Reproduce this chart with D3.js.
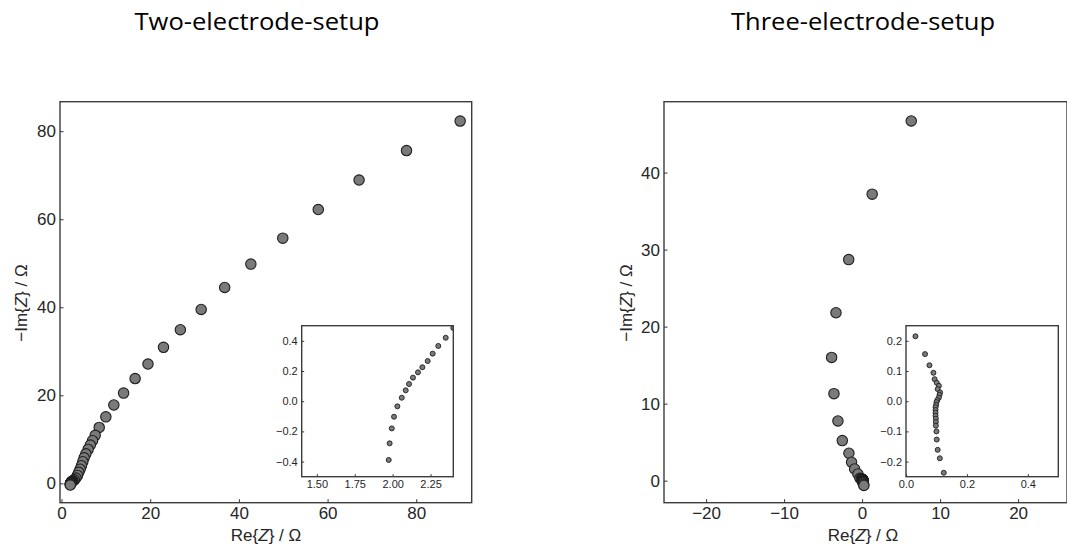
<!DOCTYPE html>
<html>
<head>
<meta charset="utf-8">
<script src="https://cdn.jsdelivr.net/npm/d3@7"></script>
<style>
  body { margin: 0; background: #fff; }
  .tick text { font-family: "Liberation Sans", sans-serif; fill: #262626; }
  .tick line { stroke: #333; }
</style>
</head>
<body>
<div id="chart"></div>
<script>
////////////////////////////////////////////////////////////////
// Data

// Two-electrode setup: Re{Z} and -Im{Z} in Ohm
var twoRe = [89.9, 77.8, 67.1, 57.9, 49.9, 42.7, 36.8, 31.5, 26.8, 23.0, 19.5, 16.6, 14.0, 11.8, 10.0,
    8.5, 7.6, 7.0, 6.5, 6.0, 5.5, 5.1, 4.8, 4.5, 4.2, 3.9, 3.6, 3.25, 2.9, 2.6, 2.45,
    2.40, 2.35, 2.301, 2.264, 2.231, 2.196, 2.167, 2.134, 2.108, 2.086, 2.06, 2.031, 2.009, 1.994, 1.980, 1.974];
var twoIm = [82.3, 75.6, 68.9, 62.2, 55.7, 49.8, 44.5, 39.5, 34.9, 30.9, 27.1, 23.8, 20.5, 17.8, 15.1,
    12.7, 10.9, 9.7, 8.7, 7.7, 6.7, 5.8, 4.9, 4.0, 3.2, 2.5, 1.8, 1.2, 0.8, 0.6, 0.52,
    0.485, 0.42, 0.366, 0.315, 0.266, 0.225, 0.191, 0.156, 0.114, 0.072, 0.023, -0.034, -0.103, -0.18, -0.279, -0.389];

// Three-electrode setup
var threeRe = [6.3, 1.29, -1.72, -3.35, -3.91, -3.61, -3.1, -2.54, -1.69, -1.35, -0.96, -0.54, -0.28, -0.1,
    0.031, 0.0625, 0.077, 0.09, 0.094, 0.101, 0.108, 0.104, 0.112, 0.11, 0.108, 0.103, 0.1, 0.099, 0.097,
    0.097, 0.097, 0.097, 0.098, 0.098, 0.098, 0.1, 0.101, 0.104, 0.111, 0.124, 0.15, 0.19, 0.23];
var threeIm = [46.7, 37.2, 28.7, 21.8, 16.0, 11.3, 7.75, 5.2, 3.56, 2.39, 1.52, 0.87, 0.31, 0.26,
    0.215, 0.156, 0.119, 0.094, 0.073, 0.061, 0.051, 0.04, 0.029, 0.021, 0.012, 0.004, -0.003, -0.012, -0.02,
    -0.029, -0.038, -0.048, -0.058, -0.069, -0.081, -0.1, -0.127, -0.161, -0.189, -0.237, -0.33, -0.48, -0.62];

// Tick values
var twoXTicks = [0, 20, 40, 60, 80];
var twoYTicks = [0, 20, 40, 60, 80];
var twoInsetXTicks = [1.50, 1.75, 2.00, 2.25];
var twoInsetYTicks = [-0.4, -0.2, 0.0, 0.2, 0.4];
var threeXTicks = [-20, -10, 0, 10, 20];
var threeYTicks = [0, 10, 20, 30, 40];
var threeInsetXTicks = [0.0, 0.2, 0.4];
var threeInsetYTicks = [-0.2, -0.1, 0.0, 0.1, 0.2];

////////////////////////////////////////////////////////////////
// SVG

var svgWidth = 1067;
var svgHeight = 544;

var svg = d3.select("#chart")
    .append("svg")
    .attr("width", svgWidth)
    .attr("height", svgHeight);

var clipCount = 0;

// draws one set of axes (main plot or inset)
function drawAxes(opt) {
    var x = d3.scaleLinear().domain(opt.xDomain).range(opt.xRange);
    var y = d3.scaleLinear().domain(opt.yDomain).range(opt.yRange);
    var g = svg.append("g");

    var left = opt.xRange[0], right = opt.xRange[1];
    var top = opt.yRange[1], bottom = opt.yRange[0];

    g.append("rect")
        .attr("x", left).attr("y", top)
        .attr("width", right - left).attr("height", bottom - top)
        .attr("fill", "#fff");

    var id = "clip" + (clipCount++);
    g.append("clipPath").attr("id", id)
        .append("rect")
        .attr("x", left).attr("y", top)
        .attr("width", right - left).attr("height", bottom - top);

    g.append("g")
        .attr("clip-path", "url(#" + id + ")")
        .selectAll("circle")
        .data(opt.re.map((d, i) => [d, opt.im[i]]))
        .enter()
        .append("circle")
        .attr("cx", d => x(d[0]))
        .attr("cy", d => y(d[1]))
        .attr("r", opt.r)
        .attr("fill", "#7a7a7a")
        .attr("stroke", "#1e1e1e")
        .attr("stroke-width", opt.sw);

    var xAxis = g.append("g")
        .attr("transform", `translate(0, ${bottom})`)
        .call(d3.axisBottom(x).tickValues(opt.xTicks).tickFormat(d3.format(opt.xFmt))
            .tickSizeInner(-opt.tick).tickSizeOuter(0).tickPadding(opt.pad));
    var yAxis = g.append("g")
        .attr("transform", `translate(${left}, 0)`)
        .call(d3.axisLeft(y).tickValues(opt.yTicks).tickFormat(d3.format(opt.yFmt))
            .tickSizeInner(-opt.tick).tickSizeOuter(0).tickPadding(opt.pad));
    xAxis.select(".domain").remove();
    yAxis.select(".domain").remove();
    g.selectAll(".tick text").style("font-size", opt.fs + "px");
    g.selectAll(".tick line").attr("stroke-width", 1);

    g.append("rect")
        .attr("x", left).attr("y", top)
        .attr("width", right - left).attr("height", bottom - top)
        .attr("fill", "none")
        .attr("stroke", "#3c3c3c")
        .attr("stroke-width", 1.4);
}

function axisLabels(cx, cy, lx, ly) {
    var t = svg.append("text")
        .attr("x", cx).attr("y", cy)
        .attr("text-anchor", "middle")
        .style("font-family", "'Liberation Sans', sans-serif")
        .style("font-size", "17px")
        .attr("fill", "#262626");
    t.append("tspan").text("Re{");
    t.append("tspan").attr("font-style", "italic").text("Z");
    t.append("tspan").text("} / Ω");

    var t2 = svg.append("text")
        .attr("transform", `translate(${lx}, ${ly}) rotate(-90)`)
        .attr("text-anchor", "middle")
        .style("font-family", "'Liberation Sans', sans-serif")
        .style("font-size", "17px")
        .attr("fill", "#262626");
    t2.append("tspan").text("−Im{");
    t2.append("tspan").attr("font-style", "italic").text("Z");
    t2.append("tspan").text("} / Ω");
}

////////////////////////////////////////////////////////////////
// Two-electrode panel

drawAxes({
    re: twoRe, im: twoIm,
    xDomain: [-0.34, 92.5], yDomain: [-4.4, 86.7],
    xRange: [60, 471.7], yRange: [502.7, 101.7],
    xTicks: twoXTicks, yTicks: twoYTicks, xFmt: "d", yFmt: "d",
    r: 5.2, sw: 1.1, tick: 3.5, pad: 4, fs: 17
});
drawAxes({
    re: twoRe, im: twoIm,
    xDomain: [1.4, 2.4], yDomain: [-0.5, 0.5],
    xRange: [301.7, 453.3], yRange: [476.7, 325.7],
    xTicks: twoInsetXTicks, yTicks: twoInsetYTicks, xFmt: ".2f", yFmt: ".1f",
    r: 2.5, sw: 0.9, tick: 2.5, pad: 4, fs: 11
});
axisLabels(266, 541, 27, 303);

////////////////////////////////////////////////////////////////
// Three-electrode panel

drawAxes({
    re: threeRe, im: threeIm,
    xDomain: [-25.4, 26.27], yDomain: [-2.86, 49.2],
    xRange: [664, 1067], yRange: [502.7, 101.7],
    xTicks: threeXTicks, yTicks: threeYTicks, xFmt: "d", yFmt: "d",
    r: 5.2, sw: 1.1, tick: 3.5, pad: 4, fs: 17
});
drawAxes({
    re: threeRe, im: threeIm,
    xDomain: [0, 0.5], yDomain: [-0.25, 0.25],
    xRange: [906, 1058.3], yRange: [476.7, 325.7],
    xTicks: threeInsetXTicks, yTicks: threeInsetYTicks, xFmt: ".1f", yFmt: ".1f",
    r: 2.5, sw: 0.9, tick: 2.5, pad: 4, fs: 11
});
axisLabels(863, 541, 632, 303);

////////////////////////////////////////////////////////////////
// Titles

svg.append("text")
    .attr("x", 257).attr("y", 30)
    .attr("text-anchor", "middle")
    .style("font-family", "'Open Sans', sans-serif")
    .style("font-size", "23px")
    .attr("textLength", 245)
    .attr("lengthAdjust", "spacingAndGlyphs")
    .text("Two-electrode-setup");

svg.append("text")
    .attr("x", 863).attr("y", 30)
    .attr("text-anchor", "middle")
    .style("font-family", "'Open Sans', sans-serif")
    .style("font-size", "23px")
    .attr("textLength", 264)
    .attr("lengthAdjust", "spacingAndGlyphs")
    .text("Three-electrode-setup");
</script>
</body>
</html>
